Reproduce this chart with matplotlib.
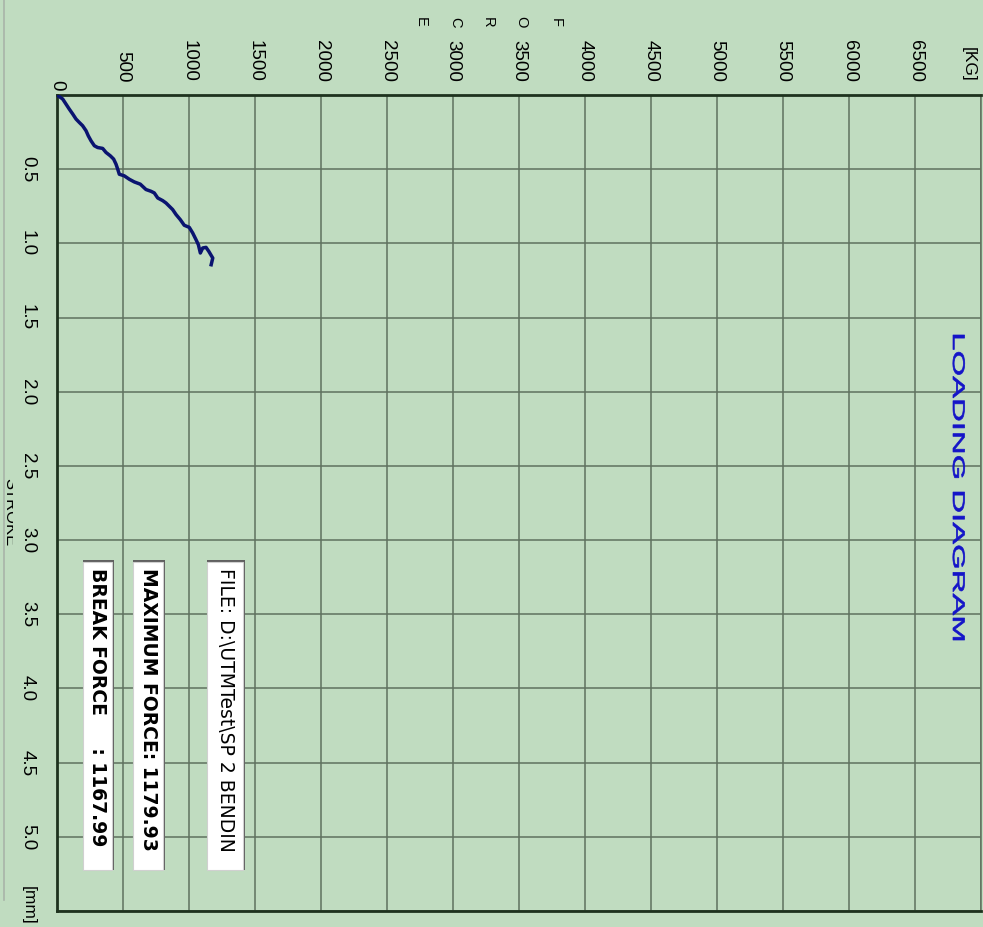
import matplotlib
matplotlib.use('Agg')
import matplotlib.pyplot as plt
import numpy as np
from matplotlib.transforms import offset_copy, Affine2D, IdentityTransform, Bbox
from matplotlib.textpath import TextPath
from matplotlib.patches import PathPatch, Rectangle
from matplotlib.font_manager import FontProperties

# lectura del gráfico (girado 90°): fuerza en horizontal, carrera hacia abajo
stroke_mm = [0.0, 0.027, 0.061, 0.095, 0.128, 0.162, 0.185, 0.207, 0.241, 0.275,
             0.309, 0.342, 0.354, 0.36, 0.387, 0.41, 0.432, 0.466, 0.5, 0.534,
             0.545, 0.568, 0.586, 0.601, 0.637, 0.649, 0.66, 0.694, 0.712, 0.728,
             0.75, 0.772, 0.806, 0.84, 0.878, 0.892, 0.93, 0.975, 1.009, 1.065,
             1.031, 1.027, 1.054, 1.099, 1.144]
force_kg = [0, 43, 68, 93, 119, 144, 169, 194, 220, 237,
            258, 283, 308, 346, 371, 404, 429, 447, 460, 472,
            510, 548, 586, 631, 674, 712, 737, 763, 801, 826,
            851, 876, 902, 934, 964, 1002, 1028, 1053, 1071, 1086,
            1104, 1129, 1150, 1180, 1168]

force_ticks = [500, 1000, 1500, 2000, 2500, 3000, 3500, 4000, 4500, 5000, 5500, 6000, 6500]
stroke_ticks = [0.5, 1.0, 1.5, 2.0, 2.5, 3.0, 3.5, 4.0, 4.5, 5.0]

titulo = 'LOADING DIAGRAM'
info_file = 'FILE: D:\\UTMTest\\SP 2 BENDIN'
info_max = 'MAXIMUM FORCE: 1179.93'
info_break = 'BREAK FORCE     : 1167.99'

verde = '#C0DCC0'
W, H = 983, 927

fig = plt.figure(figsize=(W / 100, H / 100), dpi=100, facecolor=verde)
ax = fig.add_axes([57 / W, 16 / H, 924 / W, 816 / H])
ax.set_facecolor(verde)
ax.set_xlim(0, 7000)
ax.set_ylim(5.5, 0)
ax.set_xticks(np.arange(0, 7001, 500))
ax.set_yticks(np.arange(0, 5.51, 0.5))
ax.grid(True, color='#5f725f', lw=1.1)
ax.tick_params(length=0, labelleft=False, labelbottom=False)
for s in ax.spines.values():
    s.set_color('#1e321e')
    s.set_linewidth(2)
ax.spines['right'].set_linewidth(1.1)
ax.spines['right'].set_color('#5f725f')

ax.plot(force_kg, stroke_mm, color='#0a1470', lw=2.5, zorder=5)

fuente = 'Liberation Sans'

# etiquetas de fuerza (arriba)
tr_top = offset_copy(ax.get_xaxis_transform(), fig=fig, x=0, y=13, units='dots')
for v in force_ticks:
    ax.text(v, 1, str(v), transform=tr_top, rotation=-90, ha='center', va='bottom',
            fontsize=13.5, family=fuente, clip_on=False)
ax.text(0, 1, '0', transform=offset_copy(ax.get_xaxis_transform(), fig=fig, y=5, units='dots'),
        rotation=-90, ha='center', va='bottom', fontsize=13.5, family=fuente)
ax.text(6900, 1, '[KG]', transform=tr_top, rotation=-90, ha='center', va='bottom',
        fontsize=12.5, family=fuente)

# letras F O R C E
for letra, xpx in zip('FORCE', [556, 521, 488, 455, 421]):
    fig.text(xpx / W, 1 - 22 / H, letra, rotation=-90, ha='center', va='center',
             fontsize=10.5, family=fuente)

# etiquetas de carrera (izquierda)
tr_left = offset_copy(ax.get_yaxis_transform(), fig=fig, x=-21, y=0, units='dots')
for v in stroke_ticks:
    ax.text(0, v, f'{v:.1f}', transform=tr_left, rotation=-90, ha='right', va='center',
            fontsize=13.5, family=fuente)
ax.text(0, 5.46, '[mm]', transform=tr_left, rotation=-90, ha='right', va='center',
        fontsize=12.5, family=fuente)

t = fig.text(10 / W, 1 - 512 / H, 'STROKE', rotation=-90, ha='center', va='center',
             fontsize=12, family=fuente)
t.set_clip_box(Bbox.from_extents(0, 0, 13, H))
t.set_clip_on(True)

# borde izquierdo de la ventana
fig.add_artist(plt.Line2D([4 / W, 4 / W], [1 - 900 / H, 1], color='#a8b4a8', lw=1.2))

# cuadros de información
cuadros = [(info_file, 207, 243, 'normal'),
           (info_max, 133, 163, 'bold'),
           (info_break, 83, 112, 'bold')]
for texto, x0, x1, peso in cuadros:
    y0, y1 = H - 870, H - 562
    sombra = Rectangle((x0, y0), x1 - x0 + 2, y1 - y0 + 2, transform=IdentityTransform(),
                       facecolor='#606060', edgecolor='none')
    caja = Rectangle((x0, y0), x1 - x0, y1 - y0, transform=IdentityTransform(),
                     facecolor='white', edgecolor='#d0d0d0', lw=0.8)
    fig.add_artist(sombra)
    fig.add_artist(caja)
    tt = fig.text((x0 + x1) / 2 / W, 1 - 568 / H, texto, rotation=-90, ha='center', va='top',
                  fontsize=13.5, fontweight=peso, family='DejaVu Sans', color='black')
    tt.set_clip_box(Bbox.from_extents(x0, y0, x1, y1))
    tt.set_clip_on(True)

# título estirado como en la captura
tp = TextPath((0, 0), titulo, size=16.8, prop=FontProperties(family=fuente))
ext = tp.get_extents()
sx = 305 / ext.width
trans = Affine2D().translate(-ext.x0, 0).scale(sx, 1).rotate_deg(-90).translate(953, H - 335)
path = trans.transform_path(tp)
fig.add_artist(PathPatch(path, transform=IdentityTransform(), facecolor='#1414c8',
                         edgecolor='#1414c8', lw=0.5))

fig.savefig('out.png', dpi=100, facecolor=verde)
